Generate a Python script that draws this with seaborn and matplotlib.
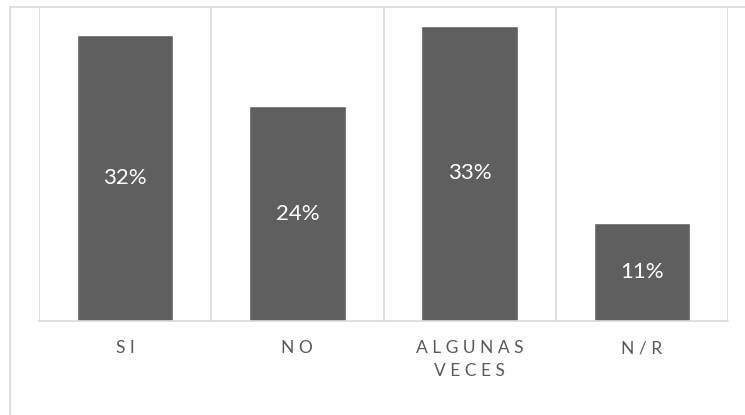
import pandas as pd
import matplotlib.pyplot as plt
import seaborn as sns
from matplotlib.patches import Rectangle

sns.set_style("white")
plt.rcParams['font.family'] = ['Lato', 'DejaVu Sans']

# --- data ---
categories = ['SI', 'NO', 'ALGUNAS\nVECES', 'N/R']
shares = [0.32, 0.24, 0.33, 0.11]
bar_labels = ['32%', '24%', '33%', '11%']

df = pd.DataFrame({'Respuesta': categories, 'Porcentaje': shares})

fig = plt.figure(figsize=(7.45, 4.15), dpi=100)
ax = fig.add_axes([39 / 745, 94 / 415, 689 / 745, 313 / 415])

sns.barplot(data=df, x='Respuesta', y='Porcentaje', color='#5f5f5f',
            saturation=1, width=0.56, ax=ax)

ax.set_xlim(-0.5, len(categories) - 0.5)
ax.set_ylim(0, 0.35)

# category separators
ax.set_xticks([i - 0.5 for i in range(len(categories) + 1)], minor=True)
ax.grid(True, which='minor', axis='x', color='#d9d9d9', linewidth=1.2)
ax.set_axisbelow(True)
ax.tick_params(which='both', length=0)
ax.set_yticks([])

# spaced-out tick labels like Excel
spaced = ['\n'.join(' '.join(line) for line in c.split('\n')) for c in categories]
ax.set_xticks(range(len(categories)))
ax.set_xticklabels(spaced, fontsize=12.5, color='#595959', linespacing=1.5)
ax.tick_params(axis='x', pad=14)
ax.set_xlabel('')
ax.set_ylabel('')

for side in ['top', 'left', 'right']:
    ax.spines[side].set_visible(False)
ax.spines['bottom'].set_color('#d9d9d9')
ax.spines['bottom'].set_linewidth(1.2)

for p, lab in zip(ax.patches, bar_labels):
    ax.text(p.get_x() + p.get_width() / 2, p.get_height() / 2, lab,
            ha='center', va='center', color='white', fontsize=16)

# chart frame (partially cut off at right and bottom)
fig.patches.append(Rectangle((10 / 745, -0.1), 1.2, 1.1 - 7 / 415,
                             transform=fig.transFigure, fill=False,
                             edgecolor='#d9d9d9', linewidth=1.2))

fig.savefig('out.png', dpi=100)
